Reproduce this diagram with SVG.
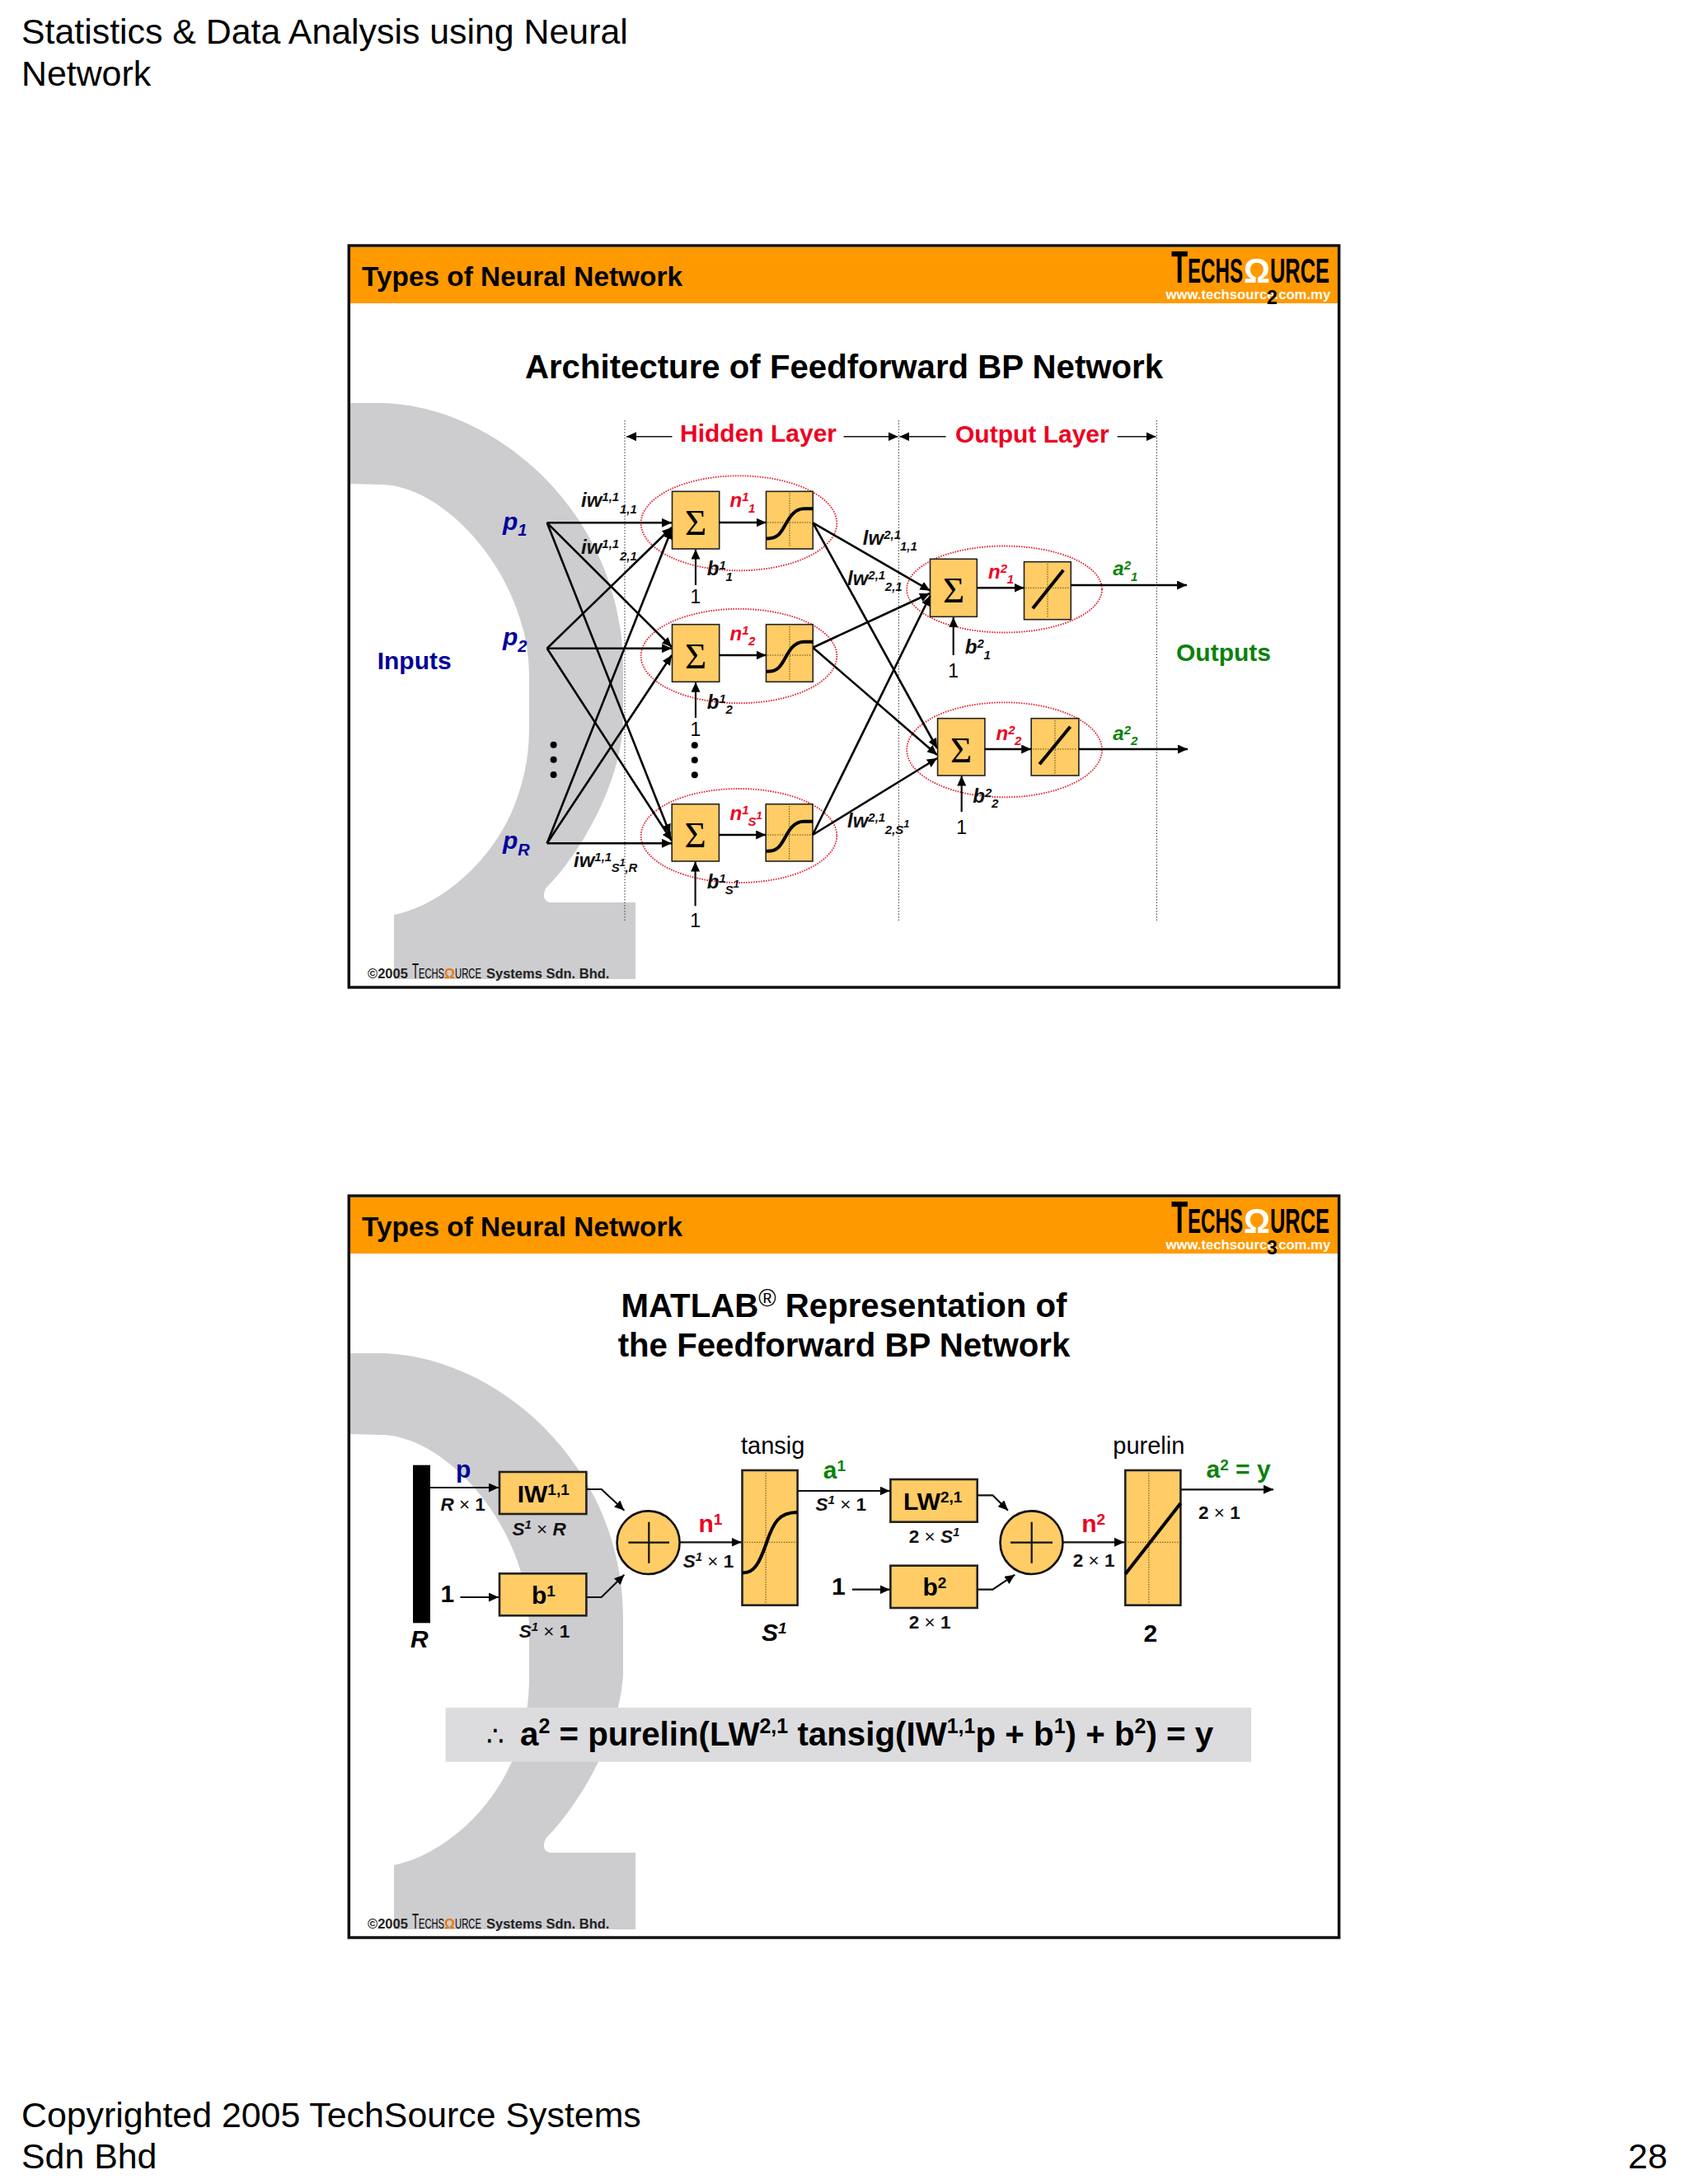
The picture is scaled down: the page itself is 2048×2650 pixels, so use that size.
<svg xmlns="http://www.w3.org/2000/svg" width="2048" height="2650" viewBox="0 0 2048 2650">
<style>
text{font-family:"Liberation Sans",Arial,sans-serif;fill:#000}
.page{font-size:42.85px}
.hdr{font-size:33.4px;font-weight:bold}
.ttl{font-size:40.2px;font-weight:bold;text-anchor:middle}
.url{font-size:16.7px;font-weight:bold;fill:#fff}
.num{font-size:23px;font-weight:bold}
.logo{font-size:43px;font-weight:bold}
.cp{font-size:16.5px;font-weight:bold;fill:#222}
.lay{font-size:30px;font-weight:bold;fill:#ee0022}
.big{font-size:30px;font-weight:bold}
.bi{font-size:24px;font-weight:bold;font-style:italic;fill:#111}
.s{font-size:15px}
.pi{font-size:30px;font-weight:bold;font-style:italic}
.ps{font-size:20px}
.one{font-size:23px;text-anchor:middle}
.sig{font-family:"Liberation Serif",serif;font-size:45px;text-anchor:middle}
.fn{font-size:29px}
.dim{font-size:22.5px;font-weight:bold;fill:#111}
.dim .i{font-style:italic}
.dim .x{font-weight:normal}
.dim .u{font-size:15px;font-style:italic}
.sup{font-size:19px}
.blue{fill:#000099}.green{fill:#0a820a}.red{fill:#ee0022}
.box{fill:#ffcc66;stroke:#222;stroke-width:1.6}
.box2{fill:#ffcc66;stroke:#222;stroke-width:2.6}
.grid{fill:none;stroke:#5a4a10;stroke-width:1;stroke-dasharray:1.5 1.5}
.fnline{fill:none;stroke:#000;stroke-width:4}
.oval{fill:none;stroke:#e02030;stroke-width:1.8;stroke-dasharray:1.6 1.4}
.guide{fill:none;stroke:#333;stroke-width:1;stroke-dasharray:1.5 2}
.c{fill:none;stroke:#000;stroke-width:2.6;marker-end:url(#a)}
.c2{fill:none;stroke:#111;stroke-width:2.2;marker-end:url(#a)}
.ll{fill:none;stroke:#111;stroke-width:1.6;marker-end:url(#a)}
.om{fill:#cdcdd0}
</style>
<defs>
<marker id="a" markerUnits="userSpaceOnUse" markerWidth="12" markerHeight="11" viewBox="0 0 12 11" refX="12" refY="5.5" orient="auto"><path d="M0 0L12 5.5L0 11Z" fill="#000"/></marker>
</defs>
<rect width="2048" height="2650" fill="#fff"/>

<g id="page-text">
<text class="page" x="26" y="53">Statistics &amp; Data Analysis using Neural</text>
<text class="page" x="26" y="104">Network</text>
<text class="page" x="26" y="2581">Copyrighted 2005 TechSource Systems</text>
<text class="page" x="26" y="2631">Sdn Bhd</text>
<text class="page" x="2023" y="2631" text-anchor="end">28</text>
</g>

<g id="slide1-chrome">
<path class="om" d="M424 489L466 489C610 495 756 630 756 810L756 880C750 960 700 1040 662 1078Q656 1092 667 1095L771 1095L771 1188L478 1188L478 1110C530 1100 596 1050 625 975C636 945 642 920 642 880L642 820C642 700 540 588 462 588L424 587Z"/>
<rect x="424" y="300" width="1200" height="68" fill="#ff9900"/>
<rect x="423.3" y="298" width="1201.3" height="900" fill="none" stroke="#111" stroke-width="3.5"/>
<text class="hdr" x="439" y="346.5">Types of Neural Network</text>
<text x="1421" y="343" font-size="56" font-weight="bold" textLength="20" lengthAdjust="spacingAndGlyphs">T</text>
<text class="logo" x="1441" y="343" textLength="67" lengthAdjust="spacingAndGlyphs">ECHS</text>
<text class="logo" x="1509" y="343" textLength="32" lengthAdjust="spacingAndGlyphs" style="fill:#fff">Ω</text>
<text class="logo" x="1541" y="343" textLength="72" lengthAdjust="spacingAndGlyphs">URCE</text>
<text class="url" x="1414.5" y="363">www.techsource.com.my</text>
<text class="num" x="1537" y="369">2</text>
<text class="ttl" x="1024" y="458.5">Architecture of Feedforward BP Network</text>
<text class="cp" x="446" y="1187">©2005</text>
<text x="500" y="1187" font-size="25" textLength="8" lengthAdjust="spacingAndGlyphs">T</text>
<text x="508" y="1187" font-size="17" textLength="31" lengthAdjust="spacingAndGlyphs">ECHS</text>
<text x="539" y="1187" font-size="17" font-weight="bold" textLength="13" lengthAdjust="spacingAndGlyphs" style="fill:#e87810">Ω</text>
<text x="552" y="1187" font-size="17" textLength="32" lengthAdjust="spacingAndGlyphs">URCE</text>
<text class="cp" x="590" y="1187">Systems Sdn. Bhd.</text>
</g>

<g id="slide1-guides">
<path class="guide" d="M758 510V1117M1090.4 510V1117M1403.4 510V1117"/>
</g>
<g id="layer-labels">
<text class="lay" x="825" y="535.5">Hidden Layer</text>
<text class="lay" x="1159" y="536.5">Output Layer</text>
</g>

<g id="slide1-ovals">
<ellipse class="oval" cx="896.5" cy="634.8" rx="118.8" ry="57.5"/>
<ellipse class="oval" cx="896.5" cy="796" rx="118.8" ry="57.2"/>
<ellipse class="oval" cx="896.5" cy="1014" rx="118.8" ry="57"/>
<ellipse class="oval" cx="1218.6" cy="715" rx="118.4" ry="52.5"/>
<ellipse class="oval" cx="1218.6" cy="909.8" rx="118.4" ry="57.5"/>
</g>

<g id="slide1-sum-1"><rect class="box" x="815.5" y="596.3" width="57.2" height="69.7"/><text class="sig" x="844" y="649">Σ</text></g>
<g id="slide1-tansig-1"><rect class="box" x="929.5" y="596.3" width="56.8" height="69.7"/><path class="grid" d="M958 598V664M931 634H985"/><path class="fnline" transform="translate(929.5 596.3)" d="M0 57C14 58 18 50 23 41C28 32 34 21 46 21L57 21"/></g>
<g id="slide1-sum-2"><rect class="box" x="815.5" y="757.7" width="57.2" height="69.6"/><text class="sig" x="844" y="810.5">Σ</text></g>
<g id="slide1-tansig-2"><rect class="box" x="929.5" y="757.7" width="56.8" height="69.6"/><path class="grid" d="M958 760V825M931 795H985"/><path class="fnline" transform="translate(929.5 757.7)" d="M0 57C14 58 18 50 23 41C28 32 34 21 46 21L57 21"/></g>
<g id="slide1-sum-3"><rect class="box" x="815.2" y="975.7" width="57.2" height="69.3"/><text class="sig" x="843.6" y="1028">Σ</text></g>
<g id="slide1-tansig-3"><rect class="box" x="929.2" y="975.7" width="56.8" height="69.3"/><path class="grid" d="M957.6 978V1043M931 1013H985"/><path class="fnline" transform="translate(929.2 975.7)" d="M0 57C14 58 18 50 23 41C28 32 34 21 46 21L57 21"/></g>
<g id="slide1-sum-4"><rect class="box" x="1128.5" y="678.3" width="56.8" height="70"/><text class="sig" x="1157" y="731">Σ</text></g>
<g id="slide1-purelin-1"><rect class="box" x="1242.5" y="681.7" width="56.8" height="70"/><path class="grid" d="M1271 684V750M1244 713.3H1298"/><path class="fnline" d="M1253 738.3L1290.2 691.7"/></g>
<g id="slide1-sum-5"><rect class="box" x="1137.6" y="871.7" width="57.3" height="69.3"/><text class="sig" x="1166" y="924.5">Σ</text></g>
<g id="slide1-purelin-2"><rect class="box" x="1251.2" y="871.7" width="57.7" height="69.3"/><path class="grid" d="M1280 874V939M1253 909H1307"/><path class="fnline" d="M1261.2 927.3L1298.5 881.7"/></g>

<g id="slide1-connectors">
<path class="ll" d="M815.5 529.7H760"/>
<path class="ll" d="M1023.6 529.7H1089.5"/>
<path class="ll" d="M1147.6 529.7H1091.4"/>
<path class="ll" d="M1355.7 529.7H1402.5"/>
<path class="c" d="M663.7 634.3L815 634.3"/>
<path class="c" d="M663.7 634.3L815 785"/>
<path class="c" d="M663.7 634.3L813 1012"/>
<path class="c" d="M663.7 786.7L815 640"/>
<path class="c" d="M663.7 786.7L815 786.7"/>
<path class="c" d="M663.7 786.7L815 1020"/>
<path class="c" d="M663.7 1023.3L815 642"/>
<path class="c" d="M663.7 1023.3L815 795"/>
<path class="c" d="M663.7 1023.3L815 1023.3"/>
<path class="c" d="M872.7 634H929.5"/>
<path class="c" d="M872.7 795H929.5"/>
<path class="c" d="M872.4 1013H929.2"/>
<path class="c" d="M986.3 634.3L1128.5 716.7"/>
<path class="c" d="M986.3 634.3L1137 908"/>
<path class="c" d="M986.3 785.7L1128 720"/>
<path class="c" d="M986.3 785.7L1137 916"/>
<path class="c" d="M986 1013L1128.5 723"/>
<path class="c" d="M986 1013L1137 920"/>
<path class="c" d="M1185.3 713.3H1242.5"/>
<path class="c" d="M1299.3 710H1440"/>
<path class="c" d="M1194.9 909H1251.2"/>
<path class="c" d="M1308.9 909H1441"/>
<path class="c2" d="M844 710V666.5"/>
<path class="c2" d="M844 871V827.8"/>
<path class="c2" d="M843.6 1099.3V1045.5"/>
<path class="c2" d="M1156.7 795V749"/>
<path class="c2" d="M1166.7 985V941.5"/>
</g>

<g id="slide1-labels">
<text class="big blue" x="457.7" y="811.5">Inputs</text>
<text class="big green" x="1427" y="801.5">Outputs</text>
<text class="pi blue" x="610" y="643">p<tspan class="ps" y="650">1</tspan></text>
<text class="pi blue" x="610" y="783">p<tspan class="ps" y="791">2</tspan></text>
<text class="pi blue" x="610" y="1030">p<tspan class="ps" y="1038">R</tspan></text>
<text class="bi" x="705" y="615">iw<tspan class="s" y="608">1,1</tspan><tspan class="s" x="752" y="622.5">1,1</tspan></text>
<text class="bi" x="705" y="672">iw<tspan class="s" y="665">1,1</tspan><tspan class="s" x="752" y="680">2,1</tspan></text>
<text class="bi" x="696" y="1052">iw<tspan class="s" y="1045">1,1</tspan><tspan class="s" x="741.7" y="1058">S</tspan><tspan class="s" style="font-size:12px" y="1051">1</tspan><tspan class="s" y="1058">,R</tspan></text>
<text class="bi" x="1046.8" y="660.5">lw<tspan class="s" y="653.5">2,1</tspan><tspan class="s" x="1092" y="668">1,1</tspan></text>
<text class="bi" x="1028" y="710">lw<tspan class="s" y="703">2,1</tspan><tspan class="s" x="1073.8" y="717">2,1</tspan></text>
<text class="bi" x="1028" y="1004.3">lw<tspan class="s" y="997.3">2,1</tspan><tspan class="s" x="1073.8" y="1011.7">2,S</tspan><tspan class="s" style="font-size:13px" y="1004">1</tspan></text>
<text class="bi red" x="885.5" y="615">n<tspan class="s" y="608">1</tspan><tspan class="s" x="908" y="621.7">1</tspan></text>
<text class="bi red" x="885.5" y="776.7">n<tspan class="s" y="769.7">1</tspan><tspan class="s" x="908" y="783">2</tspan></text>
<text class="bi red" x="885.5" y="995">n<tspan class="s" y="988">1</tspan><tspan class="s" x="907.5" y="1001.7">S</tspan><tspan class="s" style="font-size:13px" y="994">1</tspan></text>
<text class="bi" x="857.8" y="698">b<tspan class="s" y="691">1</tspan><tspan class="s" x="880.6" y="705">1</tspan></text>
<text class="bi" x="857.8" y="860">b<tspan class="s" y="853">1</tspan><tspan class="s" x="880.6" y="866">2</tspan></text>
<text class="bi" x="857.8" y="1077.7">b<tspan class="s" y="1070.7">1</tspan><tspan class="s" x="879.7" y="1085">S</tspan><tspan class="s" style="font-size:13px" y="1077">1</tspan></text>
<text class="bi red" x="1199" y="701.7">n<tspan class="s" y="694.7">2</tspan><tspan class="s" x="1221.8" y="707.7">1</tspan></text>
<text class="bi red" x="1208.5" y="898.3">n<tspan class="s" y="891.3">2</tspan><tspan class="s" x="1231" y="904.3">2</tspan></text>
<text class="bi green" x="1350.3" y="698.3">a<tspan class="s" y="691.3">2</tspan><tspan class="s" x="1372" y="705">1</tspan></text>
<text class="bi green" x="1350.3" y="898">a<tspan class="s" y="891">2</tspan><tspan class="s" x="1372" y="904">2</tspan></text>
<text class="bi" x="1170.8" y="793">b<tspan class="s" y="786">2</tspan><tspan class="s" x="1193.6" y="800">1</tspan></text>
<text class="bi" x="1180.3" y="974">b<tspan class="s" y="967">2</tspan><tspan class="s" x="1203" y="980">2</tspan></text>
<text class="one" x="844" y="731.5">1</text>
<text class="one" x="844" y="893">1</text>
<text class="one" x="843.6" y="1125">1</text>
<text class="one" x="1156.7" y="821.7">1</text>
<text class="one" x="1166.7" y="1011.7">1</text>
<circle cx="671.6" cy="903.7" r="4"/><circle cx="671.6" cy="921.7" r="4"/><circle cx="671.6" cy="940" r="4"/>
<circle cx="842.8" cy="904.3" r="4"/><circle cx="842.8" cy="922.3" r="4"/><circle cx="842.8" cy="940.3" r="4"/>
</g>

<g id="slide2-chrome">
<path class="om" transform="translate(0 1153)" d="M424 489L466 489C610 495 756 630 756 810L756 880C750 960 700 1040 662 1078Q656 1092 667 1095L771 1095L771 1188L478 1188L478 1110C530 1100 596 1050 625 975C636 945 642 920 642 880L642 820C642 700 540 588 462 588L424 587Z"/>
<rect x="424" y="1453" width="1200" height="68" fill="#ff9900"/>
<rect x="423.3" y="1451" width="1201.3" height="900" fill="none" stroke="#111" stroke-width="3.5"/>
<text class="hdr" x="439" y="1499.5">Types of Neural Network</text>
<text x="1421" y="1496" font-size="56" font-weight="bold" textLength="20" lengthAdjust="spacingAndGlyphs">T</text>
<text class="logo" x="1441" y="1496" textLength="67" lengthAdjust="spacingAndGlyphs">ECHS</text>
<text class="logo" x="1509" y="1496" textLength="32" lengthAdjust="spacingAndGlyphs" style="fill:#fff">Ω</text>
<text class="logo" x="1541" y="1496" textLength="72" lengthAdjust="spacingAndGlyphs">URCE</text>
<text class="url" x="1414.5" y="1516">www.techsource.com.my</text>
<text class="num" x="1537" y="1522">3</text>
<text class="ttl" x="1024" y="1597.5">MATLAB<tspan font-size="29" font-weight="normal" dy="-13">®</tspan><tspan dy="13"> Representation of</tspan></text>
<text class="ttl" x="1024" y="1646">the Feedforward BP Network</text>
<text class="cp" x="446" y="2340">©2005</text>
<text x="500" y="2340" font-size="25" textLength="8" lengthAdjust="spacingAndGlyphs">T</text>
<text x="508" y="2340" font-size="17" textLength="31" lengthAdjust="spacingAndGlyphs">ECHS</text>
<text x="539" y="2340" font-size="17" font-weight="bold" textLength="13" lengthAdjust="spacingAndGlyphs" style="fill:#e87810">Ω</text>
<text x="552" y="2340" font-size="17" textLength="32" lengthAdjust="spacingAndGlyphs">URCE</text>
<text class="cp" x="590" y="2340">Systems Sdn. Bhd.</text>
</g>

<g id="equation">
<rect x="540.6" y="2072" width="977.4" height="65.7" fill="#dcdcde"/>
<text x="590" y="2118.3" font-size="40.3" font-weight="bold"><tspan font-family="'DejaVu Sans',sans-serif" font-weight="normal" font-size="34">∴</tspan><tspan x="631">a</tspan><tspan font-size="25" dy="-15">2</tspan><tspan dy="15"> = purelin(LW</tspan><tspan font-size="25" dy="-15">2,1</tspan><tspan dy="15"> tansig(IW</tspan><tspan font-size="25" dy="-15">1,1</tspan><tspan dy="15">p + b</tspan><tspan font-size="25" dy="-15">1</tspan><tspan dy="15">) + b</tspan><tspan font-size="25" dy="-15">2</tspan><tspan dy="15">) = y</tspan></text>
</g>

<g id="input-bar"><rect x="501" y="1777.7" width="21" height="191.6" fill="#000"/><text class="pi" x="498" y="1999">R</text></g>
<g id="node-iw"><rect class="box2" x="606" y="1786" width="105.4" height="51"/><text class="big" x="627.7" y="1822.7">IW<tspan class="sup" y="1814">1,1</tspan></text></g>
<g id="node-b1"><rect class="box2" x="606" y="1909.3" width="105.4" height="51"/><text class="big" x="645" y="1945.7">b<tspan class="sup" y="1937">1</tspan></text></g>
<g id="node-sum1"><ellipse cx="786.6" cy="1871.7" rx="38" ry="38.3" fill="#ffcc66" stroke="#111" stroke-width="2.6"/><path d="M762.4 1871.7H812M787.3 1846.7V1896.7" stroke="#111" stroke-width="2.2" fill="none"/></g>
<g id="node-tansig"><rect class="box2" x="900.5" y="1784" width="67.1" height="163.7"/><path class="grid" d="M929.1 1787V1945M903 1871.3H966"/><path class="fnline" d="M900.5 1908C915 1910 922 1895 930 1872C938 1848 945 1835 967 1835"/><text class="fn" x="899" y="1764">tansig</text></g>
<g id="node-lw"><rect class="box2" x="1080.4" y="1795" width="105.3" height="51.7"/><text class="big" x="1096" y="1831.7">LW<tspan class="sup" y="1823">2,1</tspan></text></g>
<g id="node-b2"><rect class="box2" x="1080.4" y="1899.7" width="105.3" height="51.3"/><text class="big" x="1119.4" y="1936">b<tspan class="sup" y="1927">2</tspan></text></g>
<g id="node-sum2"><ellipse cx="1251.5" cy="1871.7" rx="38" ry="38.3" fill="#ffcc66" stroke="#111" stroke-width="2.6"/><path d="M1226 1871.7H1277M1251.7 1846.7V1896.7" stroke="#111" stroke-width="2.2" fill="none"/></g>
<g id="node-purelin"><rect class="box2" x="1365.3" y="1784" width="67.1" height="163.7"/><path class="grid" d="M1393.9 1787V1945M1368 1871.3H1431"/><path class="fnline" d="M1365.3 1910L1432.4 1824"/><text class="fn" x="1350.3" y="1764">purelin</text></g>

<g id="slide2-connectors">
<path class="c2" d="M522 1805H605"/>
<path class="c2" d="M558.4 1938H605"/>
<path class="c2" d="M711.4 1807H729.7L757.4 1832.7"/>
<path class="c2" d="M711.4 1938H729.7L757.4 1910.7"/>
<path class="c2" d="M825.4 1871.3H899.5"/>
<path class="c2" d="M967.6 1809H1079.6"/>
<path class="c2" d="M1034 1928.7H1079.6"/>
<path class="c2" d="M1185.7 1814.3H1204.4L1223 1832.7"/>
<path class="c2" d="M1185.7 1928.7H1204.4L1231.3 1910.7"/>
<path class="c2" d="M1290 1871.3H1364"/>
<path class="c2" d="M1433 1807.3H1545"/>
</g>

<g id="slide2-labels">
<text class="big blue" x="553" y="1793">p</text>
<text class="big" x="534.4" y="1944.3">1</text>
<text class="big" x="1009" y="1935">1</text>
<text class="big red" x="847.4" y="1859.3">n<tspan class="sup" y="1850">1</tspan></text>
<text class="big red" x="1312.2" y="1859.3">n<tspan class="sup" y="1850">2</tspan></text>
<text class="big green" x="998.7" y="1794.3">a<tspan class="sup" y="1785">1</tspan></text>
<text class="big green" x="1463.5" y="1792.7">a<tspan class="sup" y="1783.7">2</tspan><tspan y="1792.7"> = y</tspan></text>
<text class="pi" x="924" y="1991">S<tspan class="sup" y="1982">1</tspan></text>
<text class="big" x="1387.6" y="1992.3">2</text>
<text class="dim" x="534.4" y="1833"><tspan class="i">R</tspan><tspan class="x"> × </tspan>1</text>
<text class="dim" x="621.4" y="1862.7"><tspan class="i">S</tspan><tspan class="u" y="1855">1</tspan><tspan class="x" y="1862.7"> × </tspan><tspan class="i">R</tspan></text>
<text class="dim" x="629.7" y="1986.7"><tspan class="i">S</tspan><tspan class="u" y="1979">1</tspan><tspan class="x" y="1986.7"> × </tspan>1</text>
<text class="dim" x="828.7" y="1901.7"><tspan class="i">S</tspan><tspan class="u" y="1894">1</tspan><tspan class="x" y="1901.7"> × </tspan>1</text>
<text class="dim" x="989.6" y="1833"><tspan class="i">S</tspan><tspan class="u" y="1825">1</tspan><tspan class="x" y="1833"> × </tspan>1</text>
<text class="dim" x="1102.8" y="1871.7">2<tspan class="x"> × </tspan><tspan class="i">S</tspan><tspan class="u" y="1864">1</tspan></text>
<text class="dim" x="1102.8" y="1975.7">2<tspan class="x"> × </tspan>1</text>
<text class="dim" x="1301.8" y="1901">2<tspan class="x"> × </tspan>1</text>
<text class="dim" x="1454" y="1843.3">2<tspan class="x"> × </tspan>1</text>
</g>
</svg>
